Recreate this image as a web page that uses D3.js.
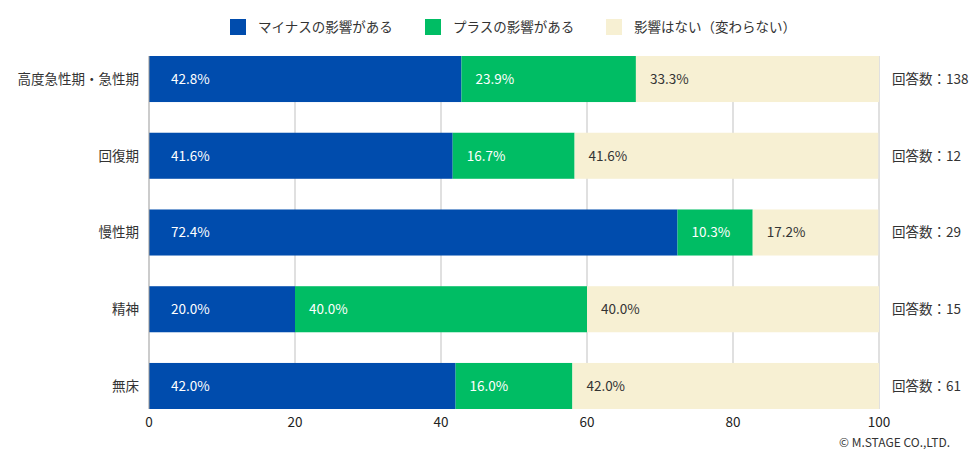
<!DOCTYPE html>
<html>
<head>
<meta charset="utf-8">
<script src="https://cdn.jsdelivr.net/npm/d3@7"></script>
<style>
  body { margin: 0; background: #fff; }
  text { font-family: "Noto Sans CJK JP", "Noto Sans", sans-serif; }
</style>
</head>
<body>
<div id="content"></div>
<script>
// Screen dimensions
var w = 976;
var h = 459;
var fs = 13.5;

// Data
var categories = ["高度急性期・急性期", "回復期", "慢性期", "精神", "無床"];
var seriesNames = ["マイナスの影響がある", "プラスの影響がある", "影響はない（変わらない）"];
var negative = [42.8, 41.6, 72.4, 20.0, 42.0];
var positive = [23.9, 16.7, 10.3, 40.0, 16.0];
var noEffect = [33.3, 41.6, 17.2, 40.0, 42.0];
var responses = [138, 12, 29, 15, 61];
var ticks = [0, 20, 40, 60, 80, 100];

var colors = ["#004cad", "#00bd64", "#f7f0d3"];
var textColors = ["#fff", "#fff", "#333"];

var rows = categories.map(function(c, i) {
	return { cat: c, vals: [negative[i], positive[i], noEffect[i]], n: responses[i] };
});

var svg = d3.select("#content")
	.append("svg")
	.attr("width", w)
	.attr("height", h);

var x = d3.scaleLinear().domain([0, 100]).range([149, 879]);
var y = d3.scaleBand().domain(categories).range([56, 409]).paddingInner(0.4).paddingOuter(0);

// Grid lines
svg.append("g")
	.selectAll("line")
	.data(ticks.slice(1))
	.enter()
	.append("line")
	.attr("x1", function(d) { return x(d); })
	.attr("x2", function(d) { return x(d); })
	.attr("y1", 56)
	.attr("y2", 409)
	.attr("stroke", "#d6d6d6")
	.attr("stroke-width", 1.5);

// Bars
var rowG = svg.append("g")
	.selectAll("g")
	.data(rows)
	.enter()
	.append("g");

rowG.each(function(d) {
	var g = d3.select(this);
	var start = 0;
	d.vals.forEach(function(v, k) {
		g.append("rect")
			.attr("x", x(start))
			.attr("y", y(d.cat))
			.attr("width", x(start + v) - x(start))
			.attr("height", y.bandwidth())
			.attr("fill", colors[k]);
		g.append("text")
			.attr("x", x(start) + (k === 0 ? 22 : 14))
			.attr("y", y(d.cat) + y.bandwidth() / 2)
			.attr("dy", "0.36em")
			.attr("font-size", fs)
			.attr("fill", textColors[k])
			.text(v.toFixed(1) + "%");
		start += v;
	});
	// category label
	g.append("text")
		.attr("x", 139)
		.attr("y", y(d.cat) + y.bandwidth() / 2)
		.attr("dy", "0.36em")
		.attr("text-anchor", "end")
		.attr("font-size", fs)
		.attr("fill", "#333")
		.text(d.cat);
	// response count
	g.append("text")
		.attr("x", 892)
		.attr("y", y(d.cat) + y.bandwidth() / 2)
		.attr("dy", "0.36em")
		.attr("font-size", fs)
		.attr("fill", "#333")
		.text("回答数：" + d.n);
});

// Axis line at zero
svg.append("line")
	.attr("x1", x(0)).attr("x2", x(0))
	.attr("y1", 56).attr("y2", 409)
	.attr("stroke", "#999")
	.attr("stroke-width", 1);

// Tick labels
svg.append("g")
	.selectAll("text")
	.data(ticks)
	.enter()
	.append("text")
	.attr("x", function(d) { return x(d); })
	.attr("y", 422)
	.attr("dy", "0.36em")
	.attr("text-anchor", "middle")
	.attr("font-size", fs)
	.attr("fill", "#222")
	.text(function(d) { return d; });

// Legend
var legendX = [230, 425, 606];
var legend = svg.append("g")
	.selectAll("g")
	.data(seriesNames)
	.enter()
	.append("g")
	.attr("transform", function(d, i) { return "translate(" + legendX[i] + ",19)"; });
legend.append("rect")
	.attr("width", 16)
	.attr("height", 16)
	.attr("fill", function(d, i) { return colors[i]; });
legend.append("text")
	.attr("x", 28)
	.attr("y", 8)
	.attr("dy", "0.36em")
	.attr("font-size", fs)
	.attr("fill", "#333")
	.text(function(d) { return d; });

// Copyright
svg.append("text")
	.attr("x", 950)
	.attr("y", 443)
	.attr("dy", "0.36em")
	.attr("text-anchor", "end")
	.attr("font-size", 12)
	.attr("fill", "#333")
	.text("© M.STAGE CO.,LTD.");
</script>
</body>
</html>
